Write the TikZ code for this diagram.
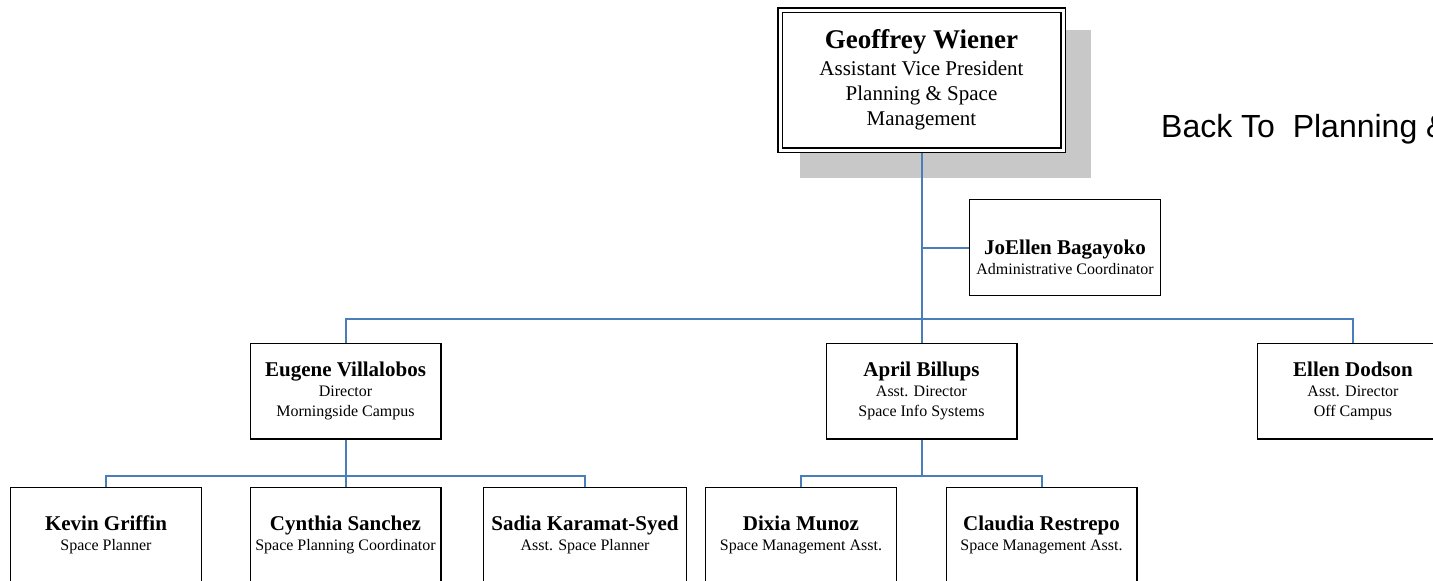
\documentclass[tikz,border=0pt]{standalone}
\usepackage{fontspec}
\setmainfont{Liberation Serif}
\newfontfamily\backfont{Liberation Sans}
\usetikzlibrary{calc,backgrounds}
\definecolor{orgblue}{RGB}{74,126,187}
\definecolor{shadowgray}{RGB}{200,200,200}

\begin{document}
\begin{tikzpicture}[x=1pt,y=-1pt,
  person/.style={draw,fill=white,line width=1.4pt,minimum width=190.6pt,minimum height=95.6pt,
    inner sep=0pt,align=center,font=\fontsize{16}{20}\selectfont},
  link/.style={orgblue,line width=2pt}]
  \useasboundingbox (0,0) rectangle (1433,581);

  \node[draw,fill=white,line width=1.6pt,double,double distance=3pt,minimum width=283pt,
    minimum height=140pt,inner sep=0pt,align=center,font=\fontsize{21}{25}\selectfont]
    (boss) at (921.5,80) {{\bfseries\fontsize{27}{27}\selectfont Geoffrey Wiener}\\[2pt]
    Assistant Vice President\\Planning \& Space\\Management};

  \node[person] (jo) at (1065,247.5) {\rule{0pt}{34pt}{\bfseries\fontsize{21}{20}\selectfont JoEllen Bagayoko}\\Administrative Coordinator};

  \node[person] (eugene) at (345.5,391) {{\bfseries\fontsize{21}{20}\selectfont Eugene Villalobos}\\Director\\Morningside Campus};
  \node[person] (april) at (921.5,391) {{\bfseries\fontsize{21}{20}\selectfont April Billups}\\Asst. Director\\Space Info Systems};
  \node[person] (ellen) at (1353,391) {{\bfseries\fontsize{21}{20}\selectfont Ellen Dodson}\\Asst. Director\\Off Campus};

  \node[person] (kevin) at (106,535) {{\bfseries\fontsize{21}{20}\selectfont Kevin Griffin}\\Space Planner};
  \node[person] (cynthia) at (345.5,535) {{\bfseries\fontsize{21}{20}\selectfont Cynthia Sanchez}\\Space Planning Coordinator};
  \node[person,minimum width=202.6pt] (sadia) at (585,535) {{\bfseries\fontsize{21}{20}\selectfont Sadia Karamat-Syed}\\Asst. Space Planner};
  \node[person] (dixia) at (801,535) {{\bfseries\fontsize{21}{20}\selectfont Dixia Munoz}\\Space Management Asst.};
  \node[person] (claudia) at (1041.5,535) {{\bfseries\fontsize{21}{20}\selectfont Claudia Restrepo}\\Space Management Asst.};

  \node[anchor=base west,inner sep=0pt,font=\backfont\fontsize{32}{32}\selectfont] (back) at (1161,137) {Back To\ \ Planning \&};

  \begin{scope}[on background layer]
    \fill[shadowgray] ($(boss.north west)+(21,21)$) rectangle ($(boss.south east)+(27,27)$);
    \draw[link] (boss.south) -- (april.north);
    \draw[link] (jo.west) -- (jo.west -| boss.south);
    \draw[link] (eugene.north) -- ++(0,-24) -| (ellen.north);
    \foreach \c in {kevin,cynthia,sadia}
      \draw[link] (eugene.south) -- ++(0,36) -| (\c.north);
    \foreach \c in {dixia,claudia}
      \draw[link] (april.south) -- ++(0,36) -| (\c.north);
  \end{scope}
\end{tikzpicture}
\end{document}
